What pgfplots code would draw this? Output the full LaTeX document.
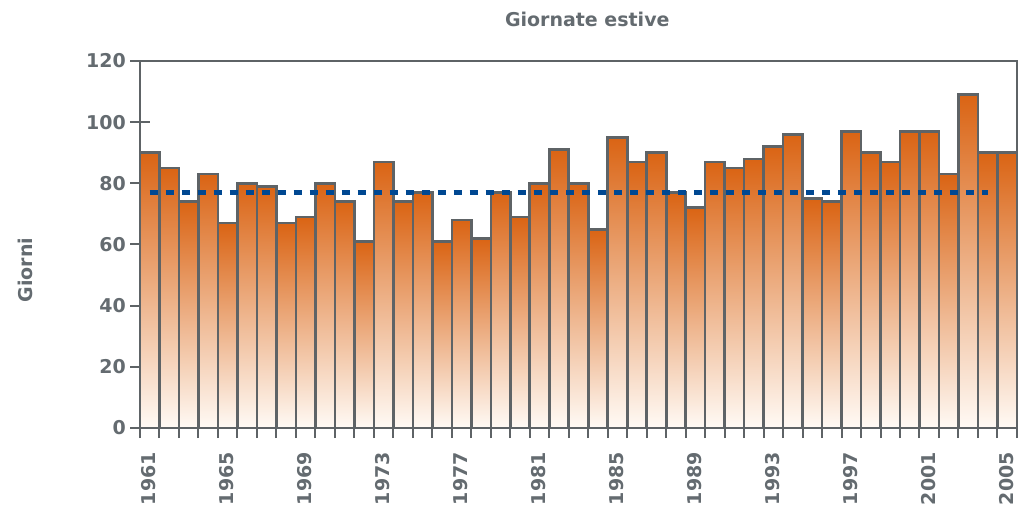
\documentclass[border=0pt]{standalone}
\usepackage{fontspec}
\setmainfont{DejaVu Sans}
\usepackage{pgfplots}
\usepackage{pgfplotstable}
\pgfplotsset{compat=1.18}
\definecolor{txtgray}{RGB}{100,107,112}
\definecolor{axgray}{RGB}{94,99,102}
\definecolor{bartop}{RGB}{218,100,20}
\definecolor{barbot}{RGB}{255,250,245}
\definecolor{meanblue}{RGB}{0,72,146}
\pgfplotstableread{
year val
1961 90
1962 85
1963 74
1964 83
1965 67
1966 80
1967 79
1968 67
1969 69
1970 80
1971 74
1972 61
1973 87
1974 74
1975 77
1976 61
1977 68
1978 62
1979 77
1980 69
1981 80
1982 91
1983 80
1984 65
1985 95
1986 87
1987 90
1988 77
1989 72
1990 87
1991 85
1992 88
1993 92
1994 96
1995 75
1996 74
1997 97
1998 90
1999 87
2000 97
2001 97
2002 83
2003 109
2004 90
2005 90
}\giornate
\begin{document}
\begin{tikzpicture}
\useasboundingbox (0,0) rectangle (1019bp,505bp);
\begin{axis}[
  at={(140bp,77bp)}, anchor=south west,
  scale only axis, width=877bp, height=367bp,
  xmin=1960.5, xmax=2005.5, ymin=0, ymax=120,
  axis line style={draw=axgray, line width=2bp},
  tick align=center,
  xtick pos=bottom, ytick pos=left,
  xtick={1961,1965,...,2005},
  xticklabels={1961,1965,1969,1973,1977,1981,1985,1989,1993,1997,2001,2005},
  minor xtick={1960.5,1961.5,...,2005.5},
  ytick={0,20,...,120},
  yticklabels={0,20,40,60,80,100,120},
  major tick length=20bp, minor tick length=20bp,
  major x tick style={draw=none},
  minor x tick style={draw=axgray, line width=2bp},
  major y tick style={draw=axgray, line width=2bp},
  tick label style={font=\fontsize{19bp}{22bp}\selectfont\bfseries, text=txtgray},
  xticklabel style={xshift=-1bp, yshift=-14bp, rotate=90, anchor=east, inner sep=0pt},
  yticklabel style={anchor=east, inner sep=0pt, xshift=-4bp},
  title={Giornate estive},
  title style={font=\fontsize{19bp}{22bp}\selectfont\bfseries, text=txtgray, at={(rel axis cs:0.51,1.096)}, anchor=center},
  ylabel={Giorni},
  every axis y label/.style={at={(rel axis cs:-0.131,0.43)}, rotate=90, anchor=center, font=\fontsize{19bp}{22bp}\selectfont\bfseries, text=txtgray},
  clip=false,
]
\pgfplotsinvokeforeach{0,...,44}{
  \pgfplotstablegetelem{#1}{year}\of\giornate \edef\yr{\pgfplotsretval}
  \pgfplotstablegetelem{#1}{val}\of\giornate \edef\vv{\pgfplotsretval}
  \edef\tmp{\noexpand\addplot[ybar, bar width=1, bar shift=0pt, draw=axgray, line width=2.6bp, top color=bartop, bottom color=barbot] coordinates {(\yr,\vv)};}
  \tmp
}
\addplot[meanblue, line width=4.5bp, dash pattern=on 8bp off 8bp] coordinates {(1961,77) (2004,77)};
\end{axis}
\end{tikzpicture}
\end{document}
